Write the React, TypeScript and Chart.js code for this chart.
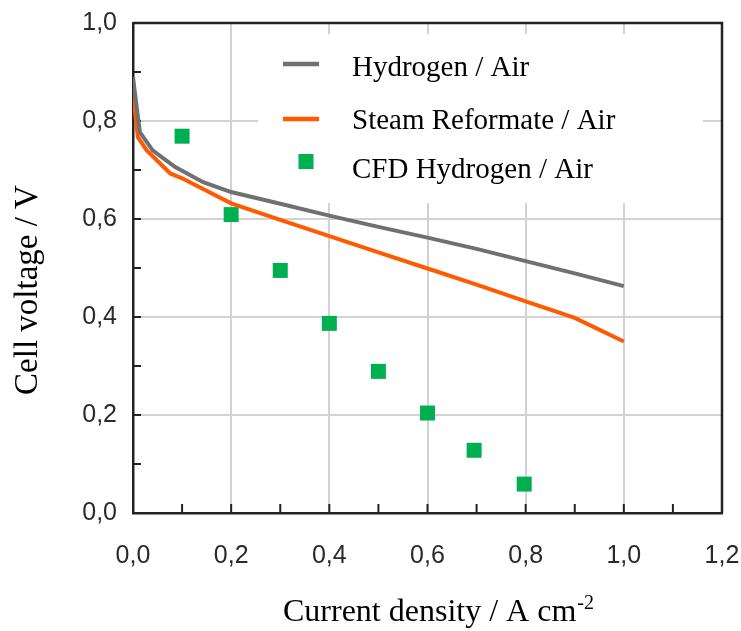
import React, { useEffect, useRef } from 'react';
import { Chart, registerables } from 'chart.js';

Chart.register(...registerables);

// ---------- data ----------
const X_TICKS = [0, 0.1, 0.2, 0.3, 0.4, 0.5, 0.6, 0.7, 0.8, 0.9, 1.0, 1.1, 1.2];
const X_LABELS = ['0,0', '', '0,2', '', '0,4', '', '0,6', '', '0,8', '', '1,0', '', '1,2'];
const Y_TICKS = [0, 0.1, 0.2, 0.3, 0.4, 0.5, 0.6, 0.7, 0.8, 0.9, 1.0];
const Y_LABELS = ['0,0', '', '0,2', '', '0,4', '', '0,6', '', '0,8', '', '1,0'];

const SERIES_LABELS = ['Hydrogen / Air', 'Steam Reformate / Air', 'CFD Hydrogen / Air'];

const H2_CURRENT = [0, 0.004, 0.014, 0.04, 0.086, 0.143, 0.2, 0.3, 0.4, 0.5, 0.6, 0.7, 0.8, 0.9, 1.0];
const H2_VOLTAGE = [0.89, 0.856, 0.777, 0.74, 0.706, 0.675, 0.655, 0.631, 0.607, 0.584, 0.562, 0.539, 0.514, 0.489, 0.463];

const SR_CURRENT = [0, 0.004, 0.01, 0.028, 0.076, 0.1, 0.2, 0.3, 0.4, 0.5, 0.6, 0.7, 0.8, 0.9, 1.0];
const SR_VOLTAGE = [0.85, 0.82, 0.767, 0.74, 0.693, 0.683, 0.632, 0.598, 0.565, 0.532, 0.499, 0.466, 0.432, 0.398, 0.35];

const CFD_CURRENT = [0.1, 0.2, 0.3, 0.4, 0.5, 0.6, 0.695, 0.797];
const CFD_VOLTAGE = [0.769, 0.609, 0.495, 0.387, 0.289, 0.204, 0.128, 0.059];

const X_TITLE = 'Current density / A cm';
const X_TITLE_SUP = '-2';
const Y_TITLE = 'Cell voltage / V';

// ---------- styles ----------
const GRAY = '#707070';
const ORANGE = '#ff5a00';
const GREEN = '#00b050';
const GRID = '#d2d2d2';
const BORDER = '#222222';
const SANS = "'Liberation Sans', Arial, Helvetica, sans-serif";
const SERIF = "'Liberation Serif', 'Times New Roman', serif";

const toPoints = (xs: number[], ys: number[]) => xs.map((x, i) => ({ x, y: ys[i] }));

const decorPlugin = {
  id: 'decor',
  beforeDatasetsDraw(chart: any) {
    const { ctx, chartArea: a, scales } = chart;
    ctx.save();
    // legend background (covers grid)
    ctx.fillStyle = '#ffffff';
    ctx.fillRect(258, 34, 445, 169);
    // top and right frame
    ctx.strokeStyle = BORDER;
    ctx.lineWidth = 2.5;
    ctx.beginPath();
    ctx.moveTo(a.left, a.top);
    ctx.lineTo(a.right, a.top);
    ctx.lineTo(a.right, a.bottom);
    ctx.stroke();
    // inward tick marks
    ctx.lineWidth = 2;
    ctx.beginPath();
    scales.y.ticks.forEach((t: any) => {
      const py = scales.y.getPixelForValue(t.value);
      ctx.moveTo(a.left, py);
      ctx.lineTo(a.left + 8, py);
    });
    scales.x.ticks.forEach((t: any) => {
      const px = scales.x.getPixelForValue(t.value);
      ctx.moveTo(px, a.bottom);
      ctx.lineTo(px, a.bottom - 9);
    });
    ctx.stroke();
    ctx.restore();
  },
  afterDraw(chart: any) {
    const { ctx } = chart;
    const ds = chart.data.datasets;
    ctx.save();
    // legend
    ctx.font = `29px ${SERIF}`;
    ctx.fillStyle = '#000';
    ctx.textAlign = 'left';
    ctx.textBaseline = 'alphabetic';
    ctx.lineCap = 'butt';
    ctx.lineWidth = 4.5;
    ctx.strokeStyle = ds[0].borderColor;
    ctx.beginPath(); ctx.moveTo(283, 64); ctx.lineTo(319, 64); ctx.stroke();
    ctx.fillText(ds[0].label, 352, 76);
    ctx.strokeStyle = ds[1].borderColor;
    ctx.beginPath(); ctx.moveTo(283, 119); ctx.lineTo(319, 119); ctx.stroke();
    ctx.fillText(ds[1].label, 352, 129);
    ctx.fillStyle = ds[2].backgroundColor;
    ctx.fillRect(298.5, 154, 15, 15);
    ctx.fillStyle = '#000';
    ctx.fillText(ds[2].label, 352, 178);

    // x title with superscript
    ctx.font = `32px ${SERIF}`;
    ctx.fillText(X_TITLE, 283, 621);
    const w = ctx.measureText(X_TITLE).width;
    ctx.font = `20px ${SERIF}`;
    ctx.fillText(X_TITLE_SUP, 283 + w + 1, 609);

    // y title
    ctx.translate(37, 290);
    ctx.rotate(-Math.PI / 2);
    ctx.font = `33px ${SERIF}`;
    ctx.textAlign = 'center';
    ctx.fillText(Y_TITLE, 0, 0);
    ctx.restore();
  },
};

export default function App() {
  const ref = useRef<HTMLCanvasElement | null>(null);

  useEffect(() => {
    if (!ref.current) return;
    const chart = new Chart(ref.current, {
      type: 'scatter',
      data: {
        datasets: [
          {
            label: SERIES_LABELS[0],
            data: toPoints(H2_CURRENT, H2_VOLTAGE),
            showLine: true,
            borderColor: GRAY,
            backgroundColor: GRAY,
            borderWidth: 4,
            pointRadius: 0,
            tension: 0,
          },
          {
            label: SERIES_LABELS[1],
            data: toPoints(SR_CURRENT, SR_VOLTAGE),
            showLine: true,
            borderColor: ORANGE,
            backgroundColor: ORANGE,
            borderWidth: 4,
            pointRadius: 0,
            tension: 0,
          },
          {
            label: SERIES_LABELS[2],
            data: toPoints(CFD_CURRENT, CFD_VOLTAGE),
            showLine: false,
            pointStyle: 'rect',
            pointRadius: 10.6,
            pointBorderWidth: 0,
            borderWidth: 0,
            backgroundColor: GREEN,
            borderColor: GREEN,
          },
        ],
      },
      options: {
        responsive: false,
        animation: false,
        devicePixelRatio: 1,
        layout: { padding: { top: 23, right: 19, left: 0, bottom: 0 } },
        plugins: { legend: { display: false }, tooltip: { enabled: false } },
        scales: {
          x: {
            type: 'linear',
            min: 0,
            max: 1.2,
            afterBuildTicks: (s: any) => {
              s.ticks = X_TICKS.map((v) => ({ value: v }));
            },
            afterFit: (s: any) => {
              s.height = 118;
              s.paddingLeft = 0;
              s.paddingRight = 0;
            },
            ticks: {
              autoSkip: false,
              maxRotation: 0,
              callback: (_v: any, i: number) => X_LABELS[i],
              font: { family: SANS, size: 25 },
              color: '#2a2a2a',
              padding: 28,
            },
            grid: {
              color: (c: any) => (X_LABELS[c.index] ? GRID : 'rgba(0,0,0,0)'),
              lineWidth: 2,
              drawTicks: false,
            },
            border: { display: true, color: BORDER, width: 2.5 },
          },
          y: {
            type: 'linear',
            min: 0,
            max: 1,
            afterBuildTicks: (s: any) => {
              s.ticks = Y_TICKS.map((v) => ({ value: v }));
            },
            afterFit: (s: any) => {
              s.width = 133;
              s.paddingTop = 0;
              s.paddingBottom = 0;
            },
            ticks: {
              autoSkip: false,
              callback: (_v: any, i: number) => Y_LABELS[i],
              font: { family: SANS, size: 25 },
              color: '#2a2a2a',
              padding: 16,
            },
            grid: {
              color: (c: any) => (Y_LABELS[c.index] ? GRID : 'rgba(0,0,0,0)'),
              lineWidth: 2,
              drawTicks: false,
            },
            border: { display: true, color: BORDER, width: 2.5 },
          },
        },
      },
      plugins: [decorPlugin],
    } as any);
    return () => chart.destroy();
  }, []);

  return (
    <div style={{ position: 'absolute', left: 0, top: 0, width: 741, height: 631, background: '#fff' }}>
      <canvas ref={ref} width={741} height={631} style={{ display: 'block' }} />
    </div>
  );
}
